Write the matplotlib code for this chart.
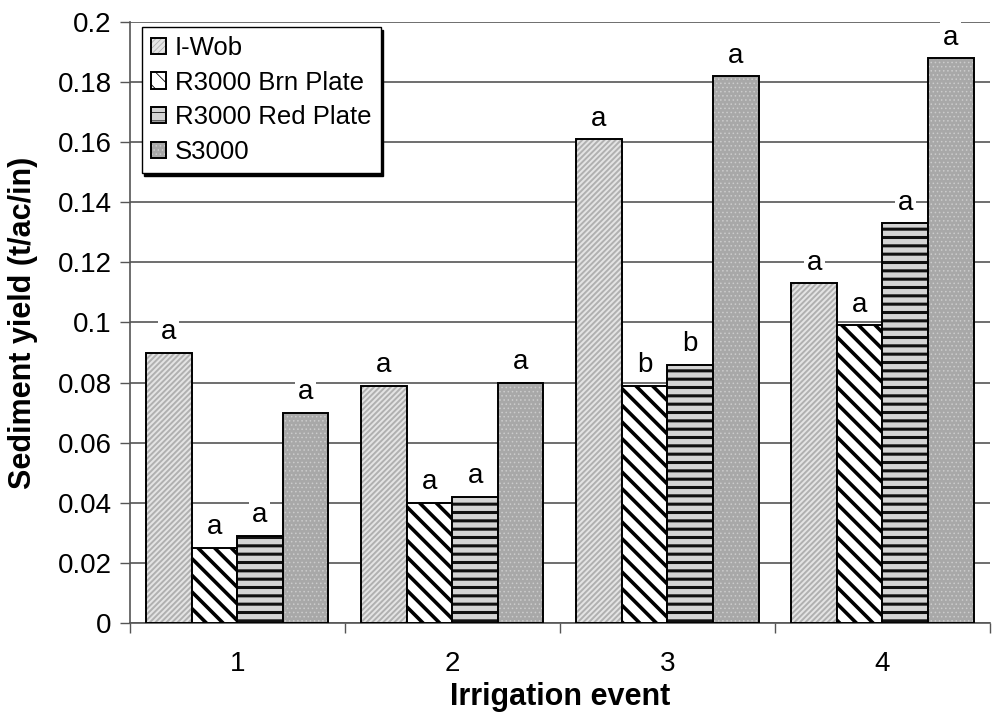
import matplotlib
matplotlib.use("Agg")
import matplotlib.pyplot as plt
import numpy as np

plt.rcParams['font.family'] = ['Liberation Sans', 'DejaVu Sans']

events = ["1", "2", "3", "4"]
series = ["I-Wob", "R3000 Brn Plate", "R3000 Red Plate", "S3000"]
iwob = [0.090, 0.079, 0.161, 0.113]
brn = [0.025, 0.040, 0.079, 0.099]
red = [0.029, 0.042, 0.086, 0.133]
s3000 = [0.070, 0.080, 0.182, 0.188]
letters = [["a", "a", "a", "a"],
           ["a", "a", "a", "a"],
           ["a", "b", "b", "a"],
           ["a", "a", "a", "a"]]
yticks = [0, 0.02, 0.04, 0.06, 0.08, 0.1, 0.12, 0.14, 0.16, 0.18, 0.2]
yticklabels = ["0", "0.02", "0.04", "0.06", "0.08", "0.1", "0.12",
               "0.14", "0.16", "0.18", "0.2"]

fig = plt.figure(figsize=(9.97, 7.25), dpi=100)
ax = fig.add_axes([0.130, 0.1407, 0.863, 0.829])

data = [iwob, brn, red, s3000]
styles = [
    dict(facecolor="#e4e4e4", hatch="//////", hatchcolor="#b0b0b0", hlw=1.4),
    dict(facecolor="white", hatch="\\\\", hatchcolor="black", hlw=2.6),
    dict(facecolor="#d4d4d4", hatch="--", hatchcolor="#111111", hlw=2.2),
    dict(facecolor="#a8a8a8", hatch="....", hatchcolor="#cccccc", hlw=0.6),
]
x = np.arange(len(events))
w = 0.212
offsets = (np.arange(4) - 1.5) * w
for i, (vals, st) in enumerate(zip(data, styles)):
    plt.rcParams['hatch.linewidth'] = st["hlw"]
    plt.rcParams['hatch.color'] = st["hatchcolor"]
    bars = ax.bar(x + offsets[i], vals, w, facecolor=st["facecolor"],
                  hatch=st["hatch"], edgecolor="black", linewidth=1.4,
                  label=series[i], zorder=3)
    for b in bars:
        b._hatch_color = matplotlib.colors.to_rgba(st["hatchcolor"])
        if hasattr(b, "set_hatch_linewidth"):
            b.set_hatch_linewidth(st["hlw"])
    for j, v in enumerate(vals):
        ax.text(x[j] + offsets[i], v + 0.0025, letters[j][i], ha="center",
                va="bottom", fontsize=20, zorder=4,
                bbox=dict(facecolor="white", edgecolor="none", pad=2))

ax.set_xlim(-0.5, 3.5)
ax.set_ylim(0, 0.2)
ax.set_yticks(yticks)
ax.set_yticklabels(yticklabels, fontsize=20)
ax.set_xticks(x)
ax.set_xticklabels(events, fontsize=20)
ax.set_xticks(np.arange(-0.5, 4.0, 1.0), minor=True)
ax.tick_params(axis="x", which="major", length=0, pad=20)
ax.tick_params(axis="x", which="minor", length=7, width=1, direction="out", color="#555555")
ax.tick_params(axis="y", length=7, width=1, direction="out", color="#555555", pad=6)
ax.yaxis.grid(True, color="#555555", linewidth=1.2, zorder=0)
ax.set_axisbelow(True)
for s in ["top", "right"]:
    ax.spines[s].set_visible(False)
ax.spines["left"].set_color("#555555")
ax.spines["bottom"].set_color("#555555")
ax.spines["left"].set_linewidth(1.2)
ax.spines["bottom"].set_linewidth(1.2)

ax.set_ylabel("Sediment yield (t/ac/in)", fontsize=22, fontweight="bold", labelpad=14)
ax.set_xlabel("Irrigation event", fontsize=22, fontweight="bold", labelpad=4)

leg = ax.legend(loc="upper left", bbox_to_anchor=(0.014, 0.992), fontsize=18.5,
                frameon=True, fancybox=False, shadow={"color": "black", "alpha": 1},
                edgecolor="black", handlelength=0.6, handleheight=0.6,
                handletextpad=0.35, borderpad=0.35, labelspacing=0.42,
                borderaxespad=0)
leg.get_frame().set_linewidth(1.0)
leg.set_zorder(6)

fig.savefig("out.png", dpi=100)
